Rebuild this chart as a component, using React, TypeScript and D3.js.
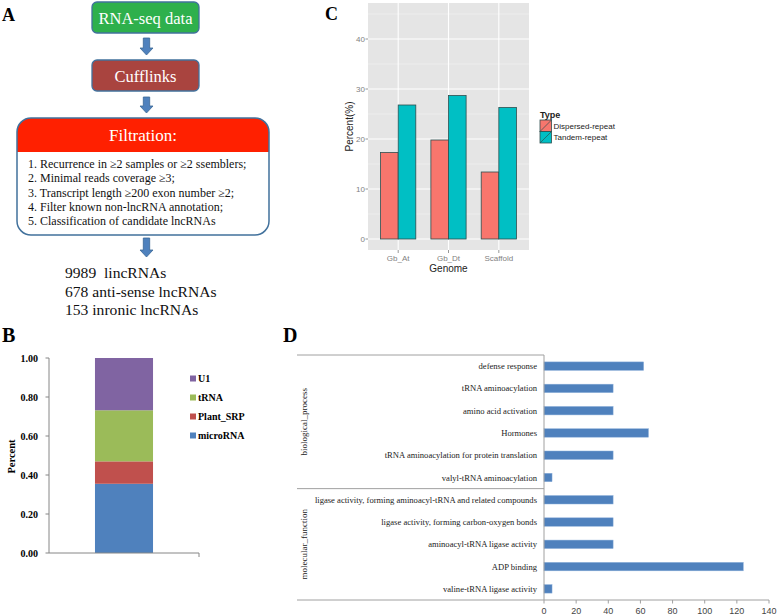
import React from 'react';
import * as d3 from 'd3';

// ---------- Panel A (flowchart) ----------
const flowSteps = ['RNA-seq data', 'Cufflinks'];
const flowColors = ['#2EB04C', '#A9443F'];
const filtrationTitle = 'Filtration:';
const filtrationCriteria = [
  '1. Recurrence in \u22652 samples or \u22652 ssemblers;',
  '2. Minimal reads coverage \u22653;',
  '3. Transcript length \u2265200 exon number \u22652;',
  '4. Filter known non-lncRNA annotation;',
  '5. Classification of candidate lncRNAs',
];
const resultLines = ['9989  lincRNAs', '678 anti-sense lncRNAs', '153 inronic lncRNAs'];

// ---------- Panel B ----------
const ncTypes = ['microRNA', 'Plant_SRP', 'tRNA', 'U1'];
const ncShares = [0.355, 0.115, 0.262, 0.268];
const ncColors = ['#4F81BD', '#C0504D', '#9BBB59', '#8064A2'];
const bTicks = [0, 0.2, 0.4, 0.6, 0.8, 1.0];

// ---------- Panel C ----------
const genomes = ['Gb_At', 'Gb_Dt', 'Scaffold'];
const repeatTypes = ['Dispersed-repeat', 'Tandem-repeat'];
const dispersedPct = [17.3, 19.8, 13.4];
const tandemPct = [26.8, 28.7, 26.3];
const repeatColors = ['#F8766D', '#00BFC4'];
const cTicks = [0, 10, 20, 30, 40];
const cMinor = [5, 15, 25, 35, 45];

// ---------- Panel D ----------
const goTerms = [
  'defense response',
  'tRNA aminoacylation',
  'amino acid activation',
  'Hormones',
  'tRNA aminoacylation for protein translation',
  'valyl-tRNA aminoacylation',
  'ligase activity, forming aminoacyl-tRNA and related compounds',
  'ligase activity, forming carbon-oxygen bonds',
  'aminoacyl-tRNA ligase activity',
  'ADP binding',
  'valine-tRNA ligase activity',
];
const goCounts = [62, 43, 43, 65, 43, 5, 43, 43, 43, 124, 5];
const goGroups = ['biological_process', 'molecular_function'];
const goGroupSizes = [6, 5];
const dTicks = [0, 20, 40, 60, 80, 100, 120, 140];

const SERIF = '"Liberation Serif", "Times New Roman", serif';
const SANS = '"Liberation Sans", Arial, sans-serif';

function DownArrow({ cx, y0, y1 }: { cx: number; y0: number; y1: number }) {
  const sw = 3.2;
  const hw = 6.5;
  const hh = 7;
  const p = d3.path();
  p.moveTo(cx - sw, y0);
  p.lineTo(cx + sw, y0);
  p.lineTo(cx + sw, y1 - hh);
  p.lineTo(cx + hw, y1 - hh);
  p.lineTo(cx, y1);
  p.lineTo(cx - hw, y1 - hh);
  p.lineTo(cx - sw, y1 - hh);
  p.closePath();
  return <path d={p.toString()} fill="#4F81BD" stroke="#3A6796" strokeWidth={0.8} />;
}

function PanelA() {
  const boxes = [
    { y: 2, h: 31 },
    { y: 60, h: 31 },
  ];
  const listY = d3.scaleLinear().domain([0, 4]).range([168, 225]);
  const resY = d3.scaleLinear().domain([0, 2]).range([278, 315]);
  return (
    <g>
      <text x={2} y={21} fontFamily={SERIF} fontWeight="bold" fontSize={18}>A</text>
      {flowSteps.map((s, i) => (
        <g key={s}>
          <rect x={92} y={boxes[i].y} width={107} height={boxes[i].h} rx={5} fill={flowColors[i]} stroke="#41719C" strokeWidth={1.3} />
          <text x={145.5} y={boxes[i].y + boxes[i].h / 2 + 6} textAnchor="middle" fill="#fff" fontFamily={SERIF} fontSize={16.5}>{s}</text>
        </g>
      ))}
      <DownArrow cx={146.5} y0={38} y1={55} />
      <DownArrow cx={146.5} y0={97} y1={113} />
      <defs>
        <clipPath id="filtClip">
          <rect x={17} y={118} width={252} height={117} rx={14} />
        </clipPath>
      </defs>
      <rect x={17} y={118} width={252} height={117} rx={14} fill="#fff" />
      <rect x={17} y={118} width={252} height={34} fill="#FF2000" clipPath="url(#filtClip)" />
      <rect x={17} y={118} width={252} height={117} rx={14} fill="none" stroke="#41719C" strokeWidth={1.5} />
      <text x={143} y={141} textAnchor="middle" fill="#fff" fontFamily={SERIF} fontSize={17}>{filtrationTitle}</text>
      {filtrationCriteria.map((c, i) => (
        <text key={c} x={28} y={listY(i)} fontFamily={SERIF} fontSize={12} fill="#111">{c}</text>
      ))}
      <DownArrow cx={146.5} y0={238} y1={257} />
      {resultLines.map((r, i) => (
        <text key={r} x={65} y={resY(i)} fontFamily={SERIF} fontSize={15.6} fill="#111" style={{ whiteSpace: 'pre' }}>{r}</text>
      ))}
    </g>
  );
}

function PanelB() {
  const y = d3.scaleLinear().domain([0, 1]).range([553, 358]);
  const x = d3.scaleBand().domain(['all']).range([49, 199]).paddingInner(0.613).paddingOuter(0.3065);
  const cum = d3.cumsum(ncShares);
  const legendY = d3.scaleLinear().domain([0, 3]).range([379, 436]);
  const legendOrder = [...ncTypes.keys()].reverse();
  return (
    <g>
      <text x={2} y={342} fontFamily={SERIF} fontWeight="bold" fontSize={20}>B</text>
      {ncTypes.map((t, i) => {
        const lo = i === 0 ? 0 : cum[i - 1];
        const hi = cum[i];
        return <rect key={t} x={x('all')} width={x.bandwidth()} y={y(hi)} height={y(lo) - y(hi)} fill={ncColors[i]} />;
      })}
      <line x1={49} x2={49} y1={y(1)} y2={y(0)} stroke="#868686" />
      <line x1={49} x2={199} y1={y(0)} y2={y(0)} stroke="#868686" />
      <line x1={199} x2={199} y1={y(0)} y2={y(0) + 4} stroke="#868686" />
      {bTicks.map((t) => (
        <g key={t}>
          <line x1={45.5} x2={49} y1={y(t)} y2={y(t)} stroke="#868686" />
          <text x={38} y={y(t) + 3.5} textAnchor="end" fontFamily={SERIF} fontWeight="bold" fontSize={10}>{t.toFixed(2)}</text>
        </g>
      ))}
      <text transform={`translate(15,${(y(0) + y(1)) / 2 + 1}) rotate(-90)`} textAnchor="middle" fontFamily={SERIF} fontWeight="bold" fontSize={10.5}>Percent</text>
      {legendOrder.map((i, k) => (
        <g key={ncTypes[i]}>
          <rect x={190} y={legendY(k) - 3.5} width={6} height={6} fill={ncColors[i]} />
          <text x={198} y={legendY(k) + 3} fontFamily={SERIF} fontWeight="bold" fontSize={10}>{ncTypes[i]}</text>
        </g>
      ))}
    </g>
  );
}

function PanelC() {
  const left = 368, right = 529, top = 3, bottom = 250;
  const y = d3.scaleLinear().domain([-2.2, 47.2]).range([bottom, top]);
  const x = d3.scalePoint().domain(genomes).range([left, right]).padding(0.6);
  const step = x.step();
  const inner = d3.scaleBand().domain(repeatTypes).range([-0.35 * step, 0.35 * step]);
  const values = [dispersedPct, tandemPct];
  return (
    <g>
      <text x={325} y={20} fontFamily={SERIF} fontWeight="bold" fontSize={18}>C</text>
      <rect x={left} y={top} width={right - left} height={bottom - top} fill="#E5E5E5" />
      {cMinor.map((t) => (
        <line key={'m' + t} x1={left} x2={right} y1={y(t)} y2={y(t)} stroke="#F2F2F2" strokeWidth={0.6} />
      ))}
      {cTicks.map((t) => (
        <line key={t} x1={left} x2={right} y1={y(t)} y2={y(t)} stroke="#fff" strokeWidth={1.1} />
      ))}
      {genomes.map((g) => (
        <line key={g} x1={x(g)} x2={x(g)} y1={top} y2={bottom} stroke="#fff" strokeWidth={1.1} />
      ))}
      {genomes.map((g, gi) =>
        repeatTypes.map((r, ri) => (
          <rect
            key={g + r}
            x={(x(g) as number) + (inner(r) as number)}
            width={inner.bandwidth()}
            y={y(values[ri][gi])}
            height={y(0) - y(values[ri][gi])}
            fill={repeatColors[ri]}
            stroke="#2F4F4F"
            strokeWidth={0.8}
          />
        ))
      )}
      {cTicks.map((t) => (
        <g key={'t' + t}>
          <line x1={left - 2.5} x2={left} y1={y(t)} y2={y(t)} stroke="#7F7F7F" strokeWidth={0.8} />
          <text x={left - 3} y={y(t) + 3} textAnchor="end" fontFamily={SANS} fontSize={8} fill="#7F7F7F">{t}</text>
        </g>
      ))}
      {genomes.map((g) => (
        <g key={'x' + g}>
          <line x1={x(g)} x2={x(g)} y1={bottom} y2={bottom + 3} stroke="#7F7F7F" strokeWidth={0.8} />
          <text x={x(g)} y={bottom + 11} textAnchor="middle" fontFamily={SANS} fontSize={8} fill="#7F7F7F">{g}</text>
        </g>
      ))}
      <text x={(left + right) / 2} y={bottom + 22} textAnchor="middle" fontFamily={SANS} fontSize={10} fill="#222">Genome</text>
      <text transform={`translate(353,${(top + bottom) / 2}) rotate(-90)`} textAnchor="middle" fontFamily={SANS} fontSize={10} fill="#222">Percent(%)</text>
      <text x={540} y={118} fontFamily={SANS} fontWeight="bold" fontSize={9} fill="#222">Type</text>
      {repeatTypes.map((r, i) => {
        const ky = 120 + i * 11.5;
        return (
          <g key={'l' + r}>
            <rect x={540} y={ky} width={11.5} height={11.5} fill={repeatColors[i]} stroke="#2F4F4F" strokeWidth={0.8} />
            <line x1={540} y1={ky + 11.5} x2={551.5} y2={ky} stroke="#2F4F4F" strokeWidth={0.7} />
            <text x={553.5} y={ky + 8.5} fontFamily={SANS} fontSize={8} fill="#222">{r}</text>
          </g>
        );
      })}
    </g>
  );
}

function PanelD() {
  const top = 355, bottom = 600, axisX = 544;
  const x = d3.scaleLinear().domain([0, 140]).range([axisX, 769]);
  const y = d3.scaleBand().domain(goTerms).range([top, bottom]).paddingInner(0.62).paddingOuter(0.31);
  const step = y.step();
  const groupBounds: number[] = [top];
  let acc = 0;
  goGroupSizes.forEach((n) => {
    acc += n;
    groupBounds.push(top + acc * step);
  });
  return (
    <g>
      <text x={283} y={342} fontFamily={SERIF} fontWeight="bold" fontSize={20}>D</text>
      {goTerms.map((t, i) => (
        <g key={t}>
          <rect x={x(0)} y={y(t)} width={x(goCounts[i]) - x(0)} height={y.bandwidth()} fill="#4F81BD" stroke="#8DB0DA" strokeWidth={0.5} />
          <text x={537} y={(y(t) as number) + y.bandwidth() / 2 + 3} textAnchor="end" fontFamily={SERIF} fontSize={8.6} fill="#222">{t}</text>
        </g>
      ))}
      {groupBounds.map((b, i) => (
        <line key={'g' + i} x1={297} x2={i === groupBounds.length - 1 ? x(140) : axisX} y1={b} y2={b} stroke="#A0A0A0" strokeWidth={1} />
      ))}
      <line x1={axisX} x2={axisX} y1={top} y2={bottom} stroke="#A0A0A0" strokeWidth={1} />
      {goGroups.map((g, i) => (
        <text
          key={g}
          transform={`translate(307,${(groupBounds[i] + groupBounds[i + 1]) / 2}) rotate(-90)`}
          textAnchor="middle"
          fontFamily={SERIF}
          fontSize={9}
          fill="#222"
        >
          {g}
        </text>
      ))}
      {dTicks.map((t) => (
        <g key={'d' + t}>
          <line x1={x(t)} x2={x(t)} y1={bottom} y2={bottom + 3.5} stroke="#A0A0A0" />
          <text x={x(t)} y={614} textAnchor="middle" fontFamily={SANS} fontSize={9} fill="#444">{t}</text>
        </g>
      ))}
    </g>
  );
}

export default function App() {
  return (
    <svg width={778} height={616} style={{ position: 'absolute', left: 0, top: 0, background: '#fff' }}>
      <rect width={778} height={616} fill="#fff" />
      <PanelA />
      <PanelB />
      <PanelC />
      <PanelD />
    </svg>
  );
}
